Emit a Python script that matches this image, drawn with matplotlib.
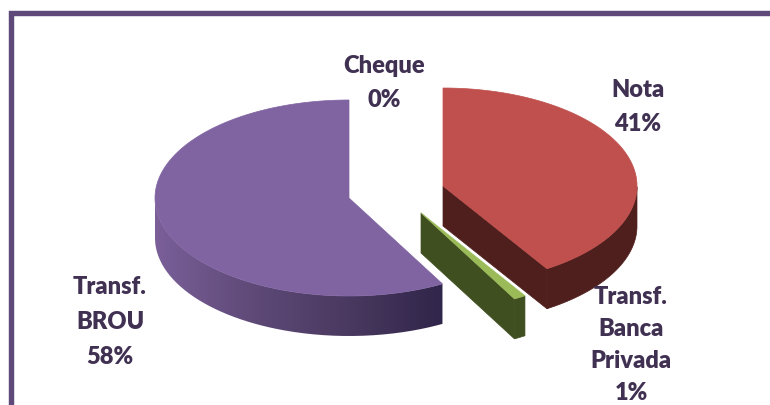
import numpy as np
from matplotlib import pyplot as plt
from matplotlib.colors import LinearSegmentedColormap
from matplotlib.patches import PathPatch, Polygon
from matplotlib.path import Path

plt.rcParams['font.family'] = ['Lato', 'DejaVu Sans']

# clockwise from 12 o'clock, like the chart
labels = ['Nota', 'Transf.\nBanca\nPrivada', 'Transf.\nBROU', 'Cheque']
values = [41, 1, 58, 0]

# layout, in pixels of the 770x405 picture
centers = [(443, 186), (421, 213), (349, 198), (384, 150)]
label_pos = [(638, 107), (631, 345), (110, 322), (384, 83)]
label_gap = [1.66, 1.54, 1.71, 1.68]
top_colors = ['#c0504d', '#9bbb59', '#8064a2', '#4bacc6']
side_colors = ['#4f1f1d', '#3f4f20', None, '#215968']
RX, RY, DEPTH = 194, 98, 40
TEXT_COLOR = '#403152'
FRAME_COLOR = '#5f497a'


def ellipse(center, angles):
    rad = np.radians(angles)
    return np.column_stack([center[0] + RX * np.cos(rad), center[1] - RY * np.sin(rad)])


def wall(top_edge):
    # top edge plus the same edge pushed down by the depth
    low = top_edge + [0, DEPTH]
    return np.vstack([top_edge, low[::-1]])


fig = plt.figure(figsize=(7.7, 4.05), dpi=100)
ax = fig.add_axes([0, 0, 1, 1])
ax.set_xlim(0, 770)
ax.set_ylim(405, 0)
ax.axis('off')

# frame, open at the right and bottom
ax.plot([10.5, 10.5, 770], [405, 13, 13], color=FRAME_COLOR, lw=3.9,
        solid_joinstyle='miter', solid_capstyle='butt')

start = 90.0
slices = []
for i, value in enumerate(values):
    end = start - value * 3.6
    slices.append((i, start, end))
    start = end

# draw the back slices first, red last so it sits on the green one
for i, a0, a1 in [slices[2], slices[1], slices[0]]:
    c = centers[i]
    arc = ellipse(c, np.linspace(a0, a1, 200))
    top = np.vstack([[c], arc])

    if side_colors[i] is None:
        # purple: only the outer wall shows, shaded from left to right
        front = ellipse(c, np.linspace(180, 360 + a0, 200))
        patch = PathPatch(Path(wall(front)), fc='none', ec='none')
        ax.add_patch(patch)
        cmap = LinearSegmentedColormap.from_list('side', ['#7a5f99', '#5f4a78', '#4a3960', '#30254a'])
        grad = np.linspace(0, 1, 256).reshape(1, -1)
        im = ax.imshow(grad, cmap=cmap, aspect='auto', zorder=2,
                       extent=(front[:, 0].min(), front[:, 0].max(), 405, 0))
        im.set_clip_path(patch)
    else:
        # cut face towards the viewer and the outer wall
        cut = np.vstack([[c], arc[-1]])
        ax.add_patch(Polygon(wall(cut), fc=side_colors[i], ec=side_colors[i], lw=0.5, zorder=3))
        lower = arc[arc[:, 1] >= c[1]]
        ax.add_patch(Polygon(wall(lower), fc=side_colors[i], ec=side_colors[i], lw=0.5, zorder=3))
    ax.add_patch(Polygon(top, fc=top_colors[i], ec=top_colors[i], lw=0.5, zorder=4))

ax.set_xlim(0, 770)
ax.set_ylim(405, 0)

for label, value, pos, gap in zip(labels, values, label_pos, label_gap):
    ax.text(pos[0], pos[1], f'{label}\n{value}%', ha='center', va='center', color=TEXT_COLOR,
            fontsize=17, fontweight='heavy', linespacing=gap, zorder=6)

fig.savefig('out.png', dpi=100)
plt.close(fig)
